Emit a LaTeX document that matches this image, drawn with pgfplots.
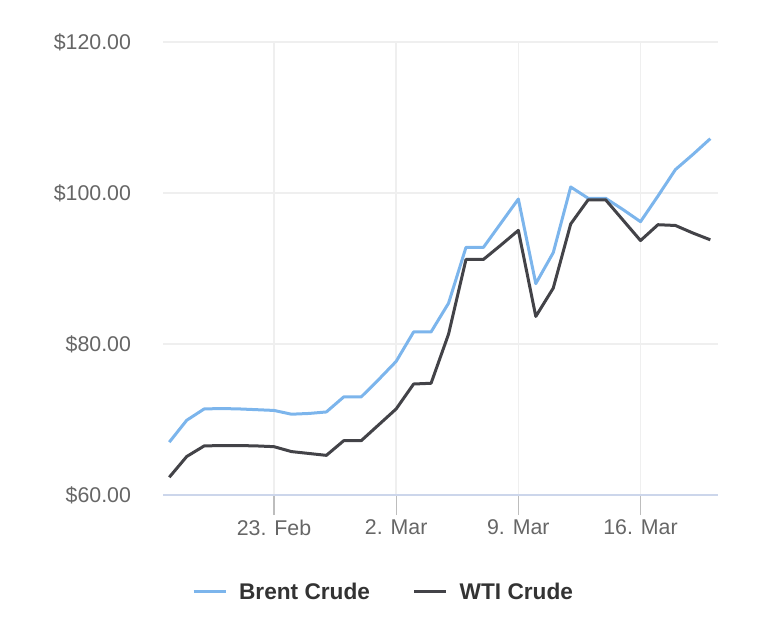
\documentclass[border=0pt]{standalone}
\usepackage{pgfplots}
\pgfplotsset{compat=1.18}
\usepackage{pgfplotstable}
\usepackage{fontspec}
\setmainfont{Liberation Sans}
\definecolor{brent}{HTML}{7CB5EC}
\definecolor{wti}{HTML}{434348}
\definecolor{gridc}{HTML}{EFEFEF}
\definecolor{axisc}{HTML}{CCD6EB}
\definecolor{tickc}{HTML}{BDBDBD}
\definecolor{labc}{HTML}{666666}
\definecolor{legc}{HTML}{333333}

% x = day number: February d -> d, March d -> 28+d
\pgfplotstableread{
x y
17 67.0
18 69.9
19 71.4
20 71.45
21 71.4
22 71.3
23 71.2
24 70.7
25 70.8
26 71.0
27 73.0
28 73.0
29 75.3
30 77.7
31 81.6
32 81.6
33 85.4
34 92.8
35 92.8
36 96.0
37 99.2
38 88.0
39 92.1
40 100.8
41 99.3
42 99.3
43 97.8
44 96.2
45 99.6
46 103.1
47 105.1
48 107.2
}\brent

\pgfplotstableread{
x y
17 62.35
18 65.1
19 66.5
20 66.55
21 66.55
22 66.5
23 66.4
24 65.75
25 65.5
26 65.25
27 67.2
28 67.2
29 69.3
30 71.4
31 74.7
32 74.8
33 81.3
34 91.2
35 91.2
36 93.1
37 95.05
38 83.65
39 87.4
40 95.9
41 99.1
42 99.1
43 96.4
44 93.7
45 95.8
46 95.7
47 94.7
48 93.8
}\wti

\begin{document}
\begin{tikzpicture}
\useasboundingbox (0,0) rectangle (576pt,471pt);
\begin{axis}[
  at={(122.25pt,99.75pt)}, anchor=south west,
  scale only axis, width=416.25pt, height=339.75pt,
  xmin=16.64, xmax=48.44, ymin=60, ymax=120,
  axis x line*=bottom, axis y line*=left,
  x axis line style={draw=axisc, line width=1.5pt},
  y axis line style={draw=none},
  xtick={23,30,37,44}, xticklabels={23. Feb, 2. Mar, 9. Mar, 16. Mar},
  ytick={60,80,100,120}, yticklabels={\$60.00,\$80.00,\$100.00,\$120.00},
  grid=major, major grid style={draw=gridc, line width=1.2pt},
  tick align=outside,
  major tick length=15pt,
  xtick style={draw=tickc, line width=1pt},
  ytick style={draw=none},
  tick label style={font=\fontsize{16}{19}\selectfont, text=labc},
  yticklabel style={xshift=-5.5pt},
  legend style={at={(0.398,-0.214)}, anchor=center, draw=none, fill=none,
    legend columns=2, font=\fontsize{17}{20}\selectfont\bfseries, text=legc,
    /tikz/every odd column/.append style={column sep=7pt},
    /tikz/every even column/.append style={column sep=30pt}},
  legend image code/.code={\draw[#1, line width=2.25pt] (0pt,0pt) -- (24pt,0pt);},
  legend cell align=left,
]
\addplot[brent, line width=2.25pt, line join=round] table[x=x,y=y]{\brent};
\addlegendentry{Brent Crude}
\addplot[wti, line width=2.25pt, line join=round] table[x=x,y=y]{\wti};
\addlegendentry{WTI Crude}
\end{axis}
\end{tikzpicture}
\end{document}
